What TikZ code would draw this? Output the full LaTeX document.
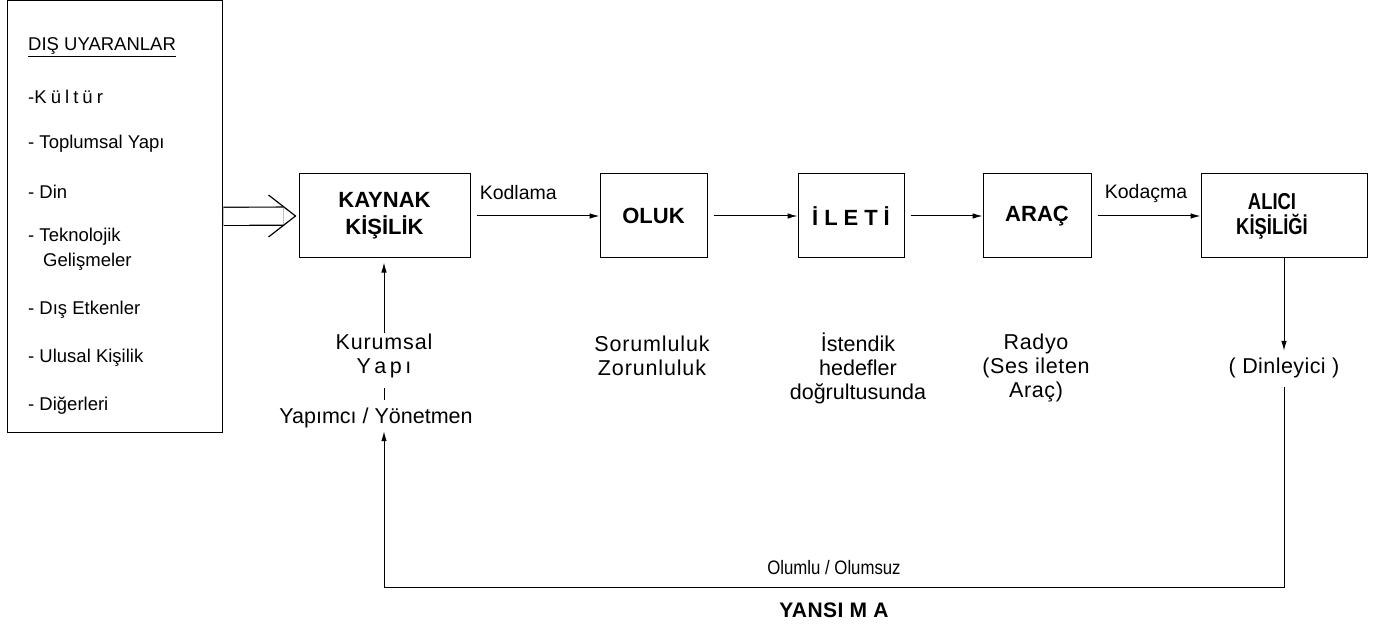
\documentclass[tikz,border=0pt]{standalone}
\usepackage{fontspec}
\setmainfont{Liberation Sans}
\usetikzlibrary{arrows.meta,positioning}

\tikzset{
  kutu/.style={draw, line width=1pt, align=center, inner sep=0pt,
    minimum height=84pt, font=\bfseries\fontsize{22}{27}\selectfont},
  yazi/.style={align=center, inner sep=1pt, font=\fontsize{21.5}{24}\selectfont},
  etiket/.style={inner sep=1pt, font=\fontsize{19.5}{23}\selectfont},
  madde/.style={anchor=west, align=left, inner sep=0pt, font=\fontsize{18.5}{25}\selectfont},
  ok/.style={-{Latex[length=10pt,width=5.5pt]}, line width=1pt},
}

\begin{document}
\begin{tikzpicture}[x=1pt,y=-1pt]
\useasboundingbox (0,0) rectangle (1375,636);

% dis uyaranlar
\node (dis) [draw, line width=1pt, minimum width=215pt, minimum height=431pt] at (114.5,216.5) {};
\node (m0) [madde] at (28,47) {\underline{DIŞ UYARANLAR}};
\node (m1) [madde] at (28,97) {-{\addfontfeature{LetterSpace=22}Kültür}};
\node (m2) [madde] at (28,144) {- Toplumsal Yapı};
\node (m3) [madde] at (28,192) {- Din};
\node (m4) [madde] at (28,249.5) {- Teknolojik\\\hspace*{15pt}Gelişmeler};
\node (m5) [madde] at (28,310) {- Dış Etkenler};
\node (m6) [madde] at (28,358) {- Ulusal Kişilik};
\node (m7) [madde] at (28,406) {- Diğerleri};

% kutular
\node (kaynak) [kutu, minimum width=171pt] at (384.5,216) {KAYNAK\\KİŞİLİK};
\node (oluk) [kutu, minimum width=107pt] at (653.5,216) {OLUK};
\node (ileti) [kutu, minimum width=106pt] at (851,216) {{\addfontfeature{LetterSpace=27}İLETİ}};
\node (arac) [kutu, minimum width=108pt] at (1037,216) {ARAÇ};
\node (alici) [kutu, minimum width=166pt, font=\bfseries\fontsize{23}{25}\selectfont] at (1284,216)
  {\addfontfeature{FakeStretch=0.8}ALICI\hspace*{24pt}\\\addfontfeature{FakeStretch=0.8}KİŞİLİĞİ\hspace*{24pt}};

% alt yazilar
\node (kurumsal) [yazi] at (384,356) {\addfontfeature{LetterSpace=4}Kurumsal\\\addfontfeature{LetterSpace=8}Y\,a\,p\,ı};
\node (yapimci) [yazi] at (376,418) {Yapımcı / Yönetmen};
\node (sorumluluk) [yazi] at (652,356) {\addfontfeature{LetterSpace=4}Sorumluluk\\\addfontfeature{LetterSpace=4}Zorunluluk};
\node (istendik) [yazi] at (858,368) {İstendik\\hedefler\\doğrultusunda};
\node (radyo) [yazi] at (1036,368) {\addfontfeature{LetterSpace=3}Radyo\\\addfontfeature{LetterSpace=3}(Ses ileten\\\addfontfeature{LetterSpace=3}Araç)};
\node (dinleyici) [yazi] at (1284,368) {\addfontfeature{LetterSpace=2}( Dinleyici )};

\coordinate (sagalt) at (alici.south |- 0,587);
\coordinate (solalt) at (kurumsal |- sagalt);

% oklar
\draw [double, double distance=17pt, line width=1.2pt, shorten <=1pt, shorten >=15pt] (dis) -- (kaynak);
\draw [line width=1.2pt] ([xshift=-30pt,yshift=21pt]kaynak.west) -- ([xshift=-3pt]kaynak.west)
  -- ([xshift=-30pt,yshift=-21pt]kaynak.west);
\draw [ok, shorten <=6pt] (kaynak) -- node[etiket, above=15pt, pos=0.37] {Kodlama} (oluk);
\draw [ok, shorten <=6pt] (oluk) -- (ileti);
\draw [ok, shorten <=6pt] (ileti) -- (arac);
\draw [ok, shorten <=6pt] (arac) -- node[etiket, above=12pt, pos=0.5] {Kodaçma} (alici);
\draw [ok, shorten >=4pt] (kurumsal.north) -- (kurumsal.north |- kaynak.south);
\draw [line width=1pt, shorten <=9pt, shorten >=7pt] (kurumsal.south) -- (kurumsal.south |- yapimci.north);
\draw [ok, shorten >=6pt] (alici) -- (dinleyici);
\draw [ok, shorten <=8pt, shorten >=2pt] (dinleyici) -- (sagalt)
  -- node[etiket, above=11pt, pos=0.5, font=\fontsize{19.5}{23}\selectfont\addfontfeature{FakeStretch=0.86}] {Olumlu / Olumsuz}
     node[etiket, below=14pt, pos=0.5, font=\bfseries\fontsize{21}{24}\selectfont\addfontfeature{LetterSpace=2}] {YANSI M A} (solalt)
  -- (kurumsal |- yapimci.south);
\end{tikzpicture}
\end{document}
